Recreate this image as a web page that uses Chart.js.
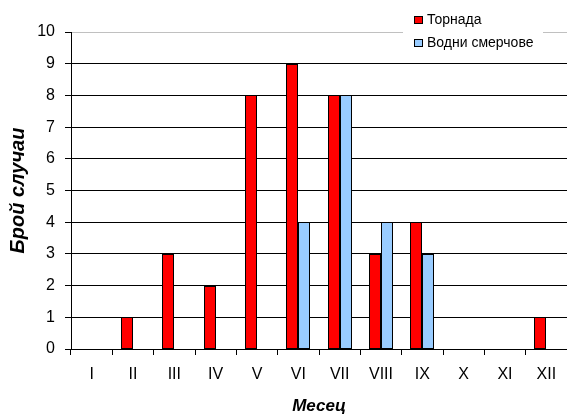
<!DOCTYPE html>
<html>
<head>
<meta charset="utf-8">
<script src="https://cdn.jsdelivr.net/npm/chart.js@4.4.1/dist/chart.umd.min.js"></script>
<style>
  html, body { margin: 0; padding: 0; background: #fff; }
  #wrap { width: 567px; height: 415px; }
</style>
</head>
<body>
<div id="wrap"><canvas id="grafico" width="567" height="415"></canvas></div>
<script>
// Данни
const meseci = ['I', 'II', 'III', 'IV', 'V', 'VI', 'VII', 'VIII', 'IX', 'X', 'XI', 'XII']
const tornada = [0, 1, 3, 2, 8, 9, 8, 3, 4, 0, 0, 1]
const vodniSmerchove = [0, 0, 0, 0, 0, 4, 8, 4, 3, 0, 0, 0]
const yTicks = [0, 1, 2, 3, 4, 5, 6, 7, 8, 9, 10]

const FONT = '"Liberation Sans", Arial, sans-serif'

// закръгляне на стълбовете до цели пиксели, за да са ръбовете остри
const pikseliPlugin = {
    id: 'pikseli',
    afterDatasetsUpdate(chart) {
        chart.data.datasets.forEach((ds, i) => {
            chart.getDatasetMeta(i).data.forEach(el => {
                el.width = Math.round(el.width)
                el.x = Math.round(el.x - el.width / 2) + el.width / 2
                el.y = Math.round(el.y)
                el.base = Math.round(el.base)
            })
        })
    }
}

// легенда в горния десен ъгъл, с бял фон
const legendaPlugin = {
    id: 'legenda',
    afterDraw(chart) {
        const ctx = chart.ctx
        ctx.save()
        ctx.fillStyle = '#fff'
        ctx.fillRect(403, 4, 140, 50)
        ctx.font = '14px ' + FONT
        ctx.textBaseline = 'middle'
        chart.data.datasets.forEach((ds, i) => {
            const y = 16 + i * 23
            ctx.fillStyle = ds.backgroundColor
            ctx.fillRect(414, y, 9, 8)
            ctx.strokeStyle = '#000'
            ctx.lineWidth = 1
            ctx.strokeRect(414.5, y + 0.5, 8, 7)
            ctx.fillStyle = '#000'
            ctx.fillText(ds.label, 427, y + 4.5)
        })
        ctx.restore()
    }
}

const grafico = new Chart(document.getElementById('grafico'), {
    type: 'bar',
    data: {
        labels: meseci,
        datasets: [{
            label: 'Торнада',
            data: tornada,
            backgroundColor: '#ff0000',
            borderColor: '#000',
            borderWidth: 1,
            borderSkipped: false
        }, {
            label: 'Водни смерчове',
            data: vodniSmerchove,
            backgroundColor: '#99ccff',
            borderColor: '#000',
            borderWidth: 1,
            borderSkipped: false
        }]
    },
    options: {
        responsive: false,
        devicePixelRatio: 1,
        animation: false,
        layout: { padding: { top: 32, right: 0, left: 0, bottom: 0 } },
        datasets: {
            bar: { barPercentage: 1, categoryPercentage: 0.58 }
        },
        plugins: {
            legend: { display: false },
            tooltip: { enabled: false }
        },
        scales: {
            x: {
                afterFit: s => { s.height = 66 },
                grid: {
                    drawOnChartArea: false,
                    color: '#000',
                    tickLength: 6,
                    offset: true
                },
                border: { display: true, color: '#000' },
                ticks: {
                    color: '#000',
                    padding: 10,
                    font: { family: FONT, size: 16 }
                },
                title: {
                    display: true,
                    text: 'Месец',
                    color: '#000',
                    padding: { top: 0, bottom: 0 },
                    font: { family: FONT, size: 17, weight: 'bold', style: 'italic', lineHeight: 1 }
                }
            },
            y: {
                min: 0,
                max: 10,
                afterFit: s => { s.width = 71 },
                afterBuildTicks: s => { s.ticks = yTicks.map(v => ({ value: v })) },
                grid: {
                    color: c => c.tick && c.tick.value === 10 ? '#c0c0c0' : '#000',
                    tickColor: '#000',
                    tickLength: 6
                },
                border: { display: true, color: '#000' },
                ticks: {
                    color: '#000',
                    padding: 10,
                    font: { family: FONT, size: 16 }
                },
                title: {
                    display: true,
                    text: 'Брой случаи',
                    color: '#000',
                    padding: { top: 8, bottom: 0 },
                    font: { family: FONT, size: 20, weight: 'bold', style: 'italic', lineHeight: 1 }
                }
            }
        }
    },
    plugins: [pikseliPlugin, legendaPlugin]
})
</script>
</body>
</html>
